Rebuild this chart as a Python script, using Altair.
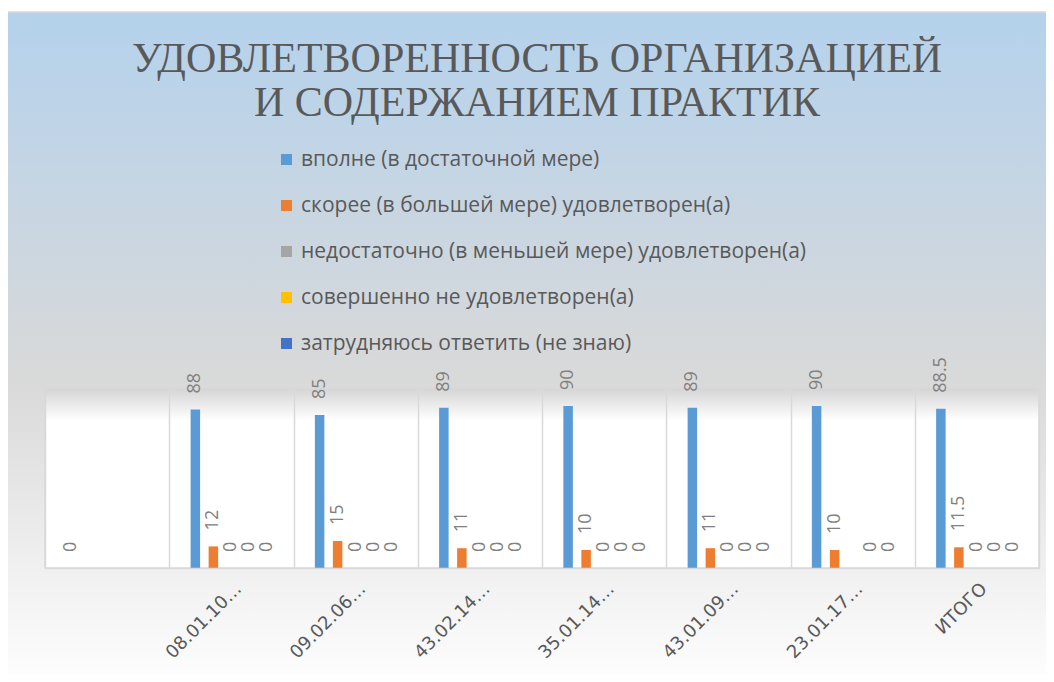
import altair as alt
import pandas as pd

# ---- data ----
categories = [" ", "08.01.10…", "09.02.06…", "43.02.14…", "35.01.14…",
              "43.01.09…", "23.01.17…", "ИТОГО"]
series = [
    "вполне (в достаточной мере)",
    "скорее (в большей мере) удовлетворен(а)",
    "недостаточно (в меньшей мере) удовлетворен(а)",
    "совершенно не удовлетворен(а)",
    "затрудняюсь ответить (не знаю)",
]
s_full = [0, 88, 85, 89, 90, 89, 90, 88.5]
s_more = [None, 12, 15, 11, 10, 11, 10, 11.5]
s_less = [None, 0, 0, 0, 0, 0, None, 0]
s_not = [None, 0, 0, 0, 0, 0, 0, 0]
s_dunno = [None, 0, 0, 0, 0, 0, 0, 0]
colors = ["#5B9BD5", "#ED7D31", "#A5A5A5", "#FFC000", "#4472C4"]
title_text = "УДОВЛЕТВОРЕННОСТЬ ОРГАНИЗАЦИЕЙ\nИ СОДЕРЖАНИЕМ ПРАКТИК"

rows = []
for name, vals in zip(series, [s_full, s_more, s_less, s_not, s_dunno]):
    for cat, v in zip(categories, vals):
        if v is not None:
            rows.append({"category": cat, "series": name, "value": v})
df = pd.DataFrame(rows)

W, H = 994, 180
one = pd.DataFrame({"k": [0]})

x_enc = alt.X(
    "category:N", sort=categories, title=None,
    scale=alt.Scale(paddingInner=0, paddingOuter=0),
    axis=alt.Axis(
        tickBand="extent", grid=True, gridColor="#D9D9D9", gridWidth=1.5,
        ticks=False, domainColor="#D9D9D9", domainWidth=1.5,
        labelAngle=315, labelAlign="right", labelBaseline="middle",
        labelFont="DejaVu Sans", labelFontSize=18, labelColor="#595959",
        labelPadding=18, labelOffset=7, zindex=1,
    ),
)
xoff_enc = alt.XOffset(
    "series:N", sort=series,
    scale=alt.Scale(paddingInner=0.1, paddingOuter=1),
)
y_enc = alt.Y("value:Q", scale=alt.Scale(domain=[0, 100]), axis=None)

bg = alt.Chart(one).mark_rect(
    color=alt.LinearGradient(
        gradient="linear", x1=0, y1=0, x2=0, y2=1,
        stops=[alt.GradientStop(color="#B4D2EC", offset=0),
               alt.GradientStop(color="#D9D9D9", offset=0.55),
               alt.GradientStop(color="#FEFEFE", offset=1)]),
    stroke="#D9D9D9", strokeWidth=1.5,
).encode(x=alt.value(-38), x2=alt.value(1010), y=alt.value(-376), y2=alt.value(296))

plot_bg = alt.Chart(one).mark_rect(
    color=alt.LinearGradient(
        gradient="linear", x1=0, y1=0, x2=0, y2=1,
        stops=[alt.GradientStop(color="#D4D4D4", offset=0),
               alt.GradientStop(color="#FFFFFF", offset=0.18),
               alt.GradientStop(color="#FFFFFF", offset=1)]),
    stroke="#D9D9D9", strokeWidth=1.5,
).encode(x=alt.value(0), x2=alt.value(W), y=alt.value(0), y2=alt.value(H))

bars = alt.Chart(df).mark_bar(size=9.5).encode(
    x=x_enc, xOffset=xoff_enc, y=y_enc,
    color=alt.Color(
        "series:N", sort=series,
        scale=alt.Scale(domain=series, range=colors),
        legend=alt.Legend(
            title=None, orient="none", legendX=231, legendY=-239,
            direction="vertical", symbolType="square", symbolSize=121,
            symbolStrokeWidth=0, symbolOpacity=1, labelFont="Open Sans",
            labelFontSize=21, labelColor="#595959", labelOffset=4,
            rowPadding=24, labelLimit=700,
        ),
    ),
)

labels = alt.Chart(df).mark_text(
    angle=270, align="left", baseline="middle", dx=16,
    font="Open Sans", fontSize=18, color="#808080",
).encode(
    x=alt.X("category:N", sort=categories),
    xOffset=alt.XOffset("series:N", sort=series),
    y=alt.Y("value:Q"),
    text=alt.Text("value:Q", format="~g"),
)

title = alt.Chart(one).mark_text(
    font="Liberation Serif", fontSize=42, color="#595959", align="center",
    baseline="alphabetic", lineBreak="\n", lineHeight=44,
).encode(x=alt.value(492), y=alt.value(-316), text=alt.value(title_text))

chart = alt.layer(bg, plot_bg, bars, labels, title).properties(
    width=W, height=H,
    padding={"left": 37, "top": 380, "right": 7, "bottom": 106},
    autosize=alt.AutoSizeParams(type="none"),
).configure_view(stroke=None)

chart.save("out.html", embed_options={"renderer": "svg", "actions": False})
